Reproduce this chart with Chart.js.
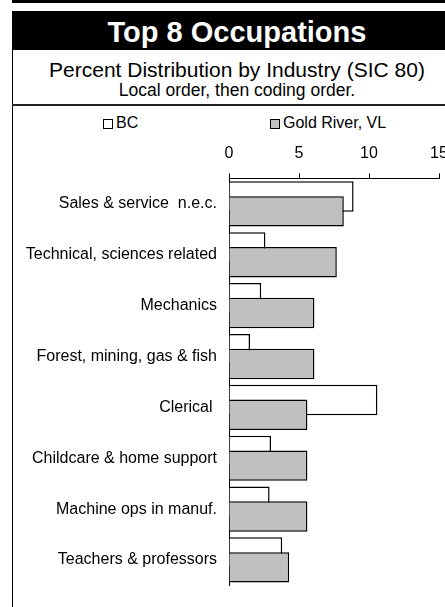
<!DOCTYPE html>
<html>
<head>
<meta charset="utf-8">
<title>Top 8 Occupations</title>
<script src="https://cdn.jsdelivr.net/npm/chart.js@4"></script>
<style>
    html, body {
        margin: 0;
        padding: 0;
        width: 445px;
        height: 607px;
        overflow: hidden;
        background: #fff;
        font-family: "Liberation Sans", Arial, sans-serif;
        color: #000;
    }
    .abs { position: absolute; }
    #topLine { left: 12px; top: 0; width: 460px; height: 3px; background: #000; }
    #titleBand {
        left: 12px; top: 11px; width: 450px; height: 37px; padding-top: 2px;
        background: #000; color: #fff; font-weight: bold; font-size: 29px;
        line-height: 39px; text-align: center; white-space: nowrap;
    }
    #leftBorder { left: 12px; top: 50px; width: 1px; height: 560px; background: #000; }
    .sub { left: 12px; width: 450px; text-align: center; white-space: nowrap; }
    #sub1 { top: 58px; font-size: 21px; line-height: 24px; }
    #sub2 { top: 80px; font-size: 17.5px; line-height: 20px; }
    #subLine { left: 12px; top: 104px; width: 460px; height: 2px; background: #222; }
    .legend { top: 113px; font-size: 16px; line-height: 20px; white-space: nowrap; }
    .legend span.box {
        display: inline-block; width: 8px; height: 8px; border: 1.5px solid #000;
        vertical-align: -1px; margin-right: 3px;
    }
    #chartBox { left: 13px; top: 135px; width: 460px; height: 472px; }
</style>
</head>
<body>
<div id="topLine" class="abs"></div>
<div id="titleBand" class="abs">Top 8 Occupations</div>
<div id="leftBorder" class="abs"></div>
<div id="sub1" class="abs sub">Percent Distribution by Industry (SIC 80)</div>
<div id="sub2" class="abs sub">Local order, then coding order.</div>
<div id="subLine" class="abs"></div>
<div id="legendBC" class="abs legend" style="left:103px"><span class="box" style="background:#fff"></span>BC</div>
<div id="legendGR" class="abs legend" style="left:270px"><span class="box" style="background:#c0c0c0"></span>Gold River, VL</div>
<div id="chartBox" class="abs"><canvas id="occChart"></canvas></div>

<script>
// chart values
const occupations = [
    "Sales & service  n.e.c.",
    "Technical, sciences related",
    "Mechanics",
    "Forest, mining, gas & fish",
    "Clerical ",
    "Childcare & home support",
    "Machine ops in manuf.",
    "Teachers & professors"
];
const bcPercent = [8.9, 2.6, 2.3, 1.5, 10.6, 3.0, 2.9, 3.8];
const goldRiverPercent = [8.2, 7.7, 6.1, 6.1, 5.6, 5.6, 5.6, 4.3];
const percentTicks = [0, 5, 10, 15];

// Gold River bars overlap the BC bars, so draw that dataset last
const drawGoldRiverLast = {
    id: "drawGoldRiverLast",
    beforeDatasetDraw(chart, args) {
        if (args.index === 1) return false;
    },
    afterDatasetsDraw(chart) {
        const meta = chart.getDatasetMeta(1);
        if (!meta.hidden) meta.controller.draw();
    }
};

document.addEventListener("DOMContentLoaded", function () {
    const ctx = document.getElementById("occChart").getContext("2d");
    Chart.defaults.font.family = '"Liberation Sans", Arial, sans-serif';
    Chart.defaults.color = "#000";

    new Chart(ctx, {
        type: "bar",
        data: {
            labels: occupations,
            datasets: [{
                label: "BC",
                data: bcPercent,
                backgroundColor: "#ffffff",
                borderColor: "#000000",
                borderWidth: 1.5
            }, {
                label: "Gold River, VL",
                data: goldRiverPercent,
                backgroundColor: "#c0c0c0",
                borderColor: "#000000",
                borderWidth: 1.5
            }]
        },
        options: {
            indexAxis: "y",
            responsive: true,
            maintainAspectRatio: false,
            animation: false,
            categoryPercentage: 0.583,
            barPercentage: 2.05,
            layout: { padding: { top: 0, right: 34, bottom: 0, left: 0 } },
            plugins: {
                legend: { display: false },
                tooltip: { enabled: false }
            },
            scales: {
                x: {
                    position: "top",
                    min: percentTicks[0],
                    max: percentTicks[percentTicks.length - 1],
                    afterBuildTicks: function (scale) {
                        scale.ticks = percentTicks.map(v => ({ value: v }));
                    },
                    afterFit: function (scale) { scale.height = 43.5; },
                    grid: { drawOnChartArea: false, drawTicks: true, tickLength: 5, color: "#000", lineWidth: 1 },
                    border: { display: true, color: "#000", width: 1 },
                    ticks: { font: { size: 16 }, color: "#000", padding: 10, maxRotation: 0 }
                },
                y: {
                    afterFit: function (scale) { scale.width = 216; },
                    grid: { display: false, drawTicks: false },
                    border: { display: true, color: "#000", width: 1 },
                    ticks: { font: { size: 16 }, color: "#000", padding: 12, autoSkip: false }
                }
            }
        },
        plugins: [drawGoldRiverLast]
    });
});
</script>
</body>
</html>
